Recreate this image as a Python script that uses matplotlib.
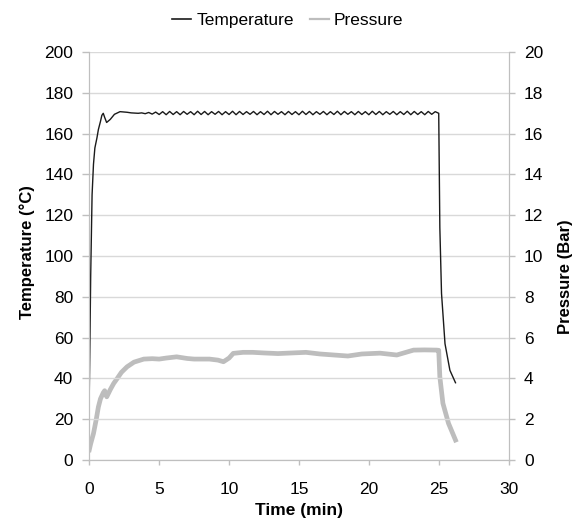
import matplotlib
matplotlib.use('Agg')
import matplotlib.pyplot as plt
from matplotlib.lines import Line2D

plt.rcParams['font.family'] = ['Liberation Sans', 'DejaVu Sans']

# Temperature (°C) vs time (min)
temp_time = [0, 0.05, 0.1, 0.2, 0.3, 0.4, 0.55, 0.65, 0.8, 0.9, 1.0, 1.1, 1.24, 1.5,
             1.8, 2.2, 2.7, 3.0, 3.25,
             3.5, 3.75, 4.0, 4.25, 4.5, 4.75, 5.0, 5.25,
             5.5, 5.75, 6.0, 6.25, 6.5, 6.75, 7.0, 7.25,
             7.5, 7.75, 8.0, 8.25, 8.5, 8.75, 9.0, 9.25,
             9.5, 9.75, 10.0, 10.25, 10.5, 10.75, 11.0, 11.25,
             11.5, 11.75, 12.0, 12.25, 12.5, 12.75, 13.0, 13.25,
             13.5, 13.75, 14.0, 14.25, 14.5, 14.75, 15.0, 15.25,
             15.5, 15.75, 16.0, 16.25, 16.5, 16.75, 17.0, 17.25,
             17.5, 17.75, 18.0, 18.25, 18.5, 18.75, 19.0, 19.25,
             19.5, 19.75, 20.0, 20.25, 20.5, 20.75, 21.0, 21.25,
             21.5, 21.75, 22.0, 22.25, 22.5, 22.75, 23.0, 23.25,
             23.5, 23.75, 24.0, 24.25, 24.5, 24.75, 25.0,
             25.08, 25.2, 25.45, 25.8, 26.2]
temp = [33, 60, 90, 130, 145, 153, 158, 162, 166, 169, 170, 168, 165.5, 167,
        169.5, 170.8, 170.5, 170.2, 170.1,
        170.0, 170.2, 169.8, 170.4, 169.6, 170.6, 169.4, 170.8,
        169.3, 170.9, 169.4, 170.8, 169.3, 170.9, 169.5, 170.8,
        169.3, 171.0, 169.4, 170.9, 169.3, 170.8, 169.5, 170.9,
        169.3, 170.8, 169.4, 171.0, 169.3, 170.9, 169.4, 170.8,
        169.5, 170.9, 169.3, 170.8, 169.4, 171.0, 169.3, 170.9,
        169.5, 170.8, 169.3, 170.9, 169.4, 170.8, 169.3, 171.0,
        169.4, 170.9, 169.3, 170.8, 169.5, 170.9, 169.3, 170.8,
        169.4, 171.0, 169.3, 170.9, 169.5, 170.8, 169.3, 170.9,
        169.4, 170.8, 169.3, 171.0, 169.4, 170.9, 169.3, 170.8,
        169.5, 170.9, 169.3, 170.8, 169.4, 171.0, 169.3, 170.9,
        169.4, 170.8, 169.3, 170.9, 169.5, 170.8, 170.0,
        114, 81.7, 57, 44, 37.9]

# Pressure (Bar) vs time (min)
pres_time = [0, 0.1, 0.3, 0.5, 0.65, 0.8, 1.0, 1.1, 1.25, 1.5, 1.75, 2.0, 2.3, 2.7,
             3.2, 3.9, 4.5, 5.0, 5.5, 6.25, 7.0, 7.5, 8.0, 8.6, 9.2, 9.6, 10.0, 10.3,
             11.0, 11.7, 12.5, 13.5, 14.5, 15.5, 16.5, 17.5, 18.5, 19.5, 20.8, 22.0,
             23.2, 24.0, 24.85, 25.0, 25.08, 25.3, 25.7, 26.2]
pres = [0.5, 0.8, 1.3, 2.0, 2.6, 3.0, 3.3, 3.4, 3.1, 3.45, 3.76, 4.0, 4.3, 4.57,
        4.8, 4.95, 4.97, 4.95, 5.0, 5.06, 4.98, 4.95, 4.95, 4.95, 4.9, 4.82, 5.0, 5.23,
        5.28, 5.28, 5.25, 5.22, 5.25, 5.28, 5.2, 5.15, 5.1, 5.2, 5.24, 5.15,
        5.39, 5.4, 5.39, 5.38, 4.08, 2.78, 1.8, 0.98]

temp_color = '#1a1a1a'
pres_color = '#bdbdbd'

fig = plt.figure(figsize=(5.76, 5.21), dpi=100)
ax = fig.add_axes([0.155, 0.117, 0.728, 0.783])
ax2 = ax.twinx()

edge = '#bfbfbf'
ax.set_axisbelow(True)
ax.grid(axis='y', color='#d9d9d9', linewidth=1)

ax2.plot(pres_time, pres, color=pres_color, linewidth=3.4)
ax.plot(temp_time, temp, color=temp_color, linewidth=1.0)
ax.set_zorder(ax2.get_zorder() + 1)
ax.patch.set_visible(False)

ax.set_xlim(0, 30)
ax.set_ylim(0, 200)
ax2.set_ylim(0, 20)
ax.set_xticks(range(0, 31, 5))
ax.set_yticks(range(0, 201, 20))
ax2.set_yticks(range(0, 21, 2))

for a in (ax, ax2):
    a.spines['top'].set_visible(False)
    for s in ('left', 'right', 'bottom'):
        a.spines[s].set_color(edge)
    a.tick_params(colors=edge, labelcolor='black', labelsize=12.5, width=1)
ax.tick_params(axis='x', length=3.6, pad=12)
ax.tick_params(axis='y', length=5, pad=6.5)
ax2.tick_params(axis='y', length=4.5, pad=6.5)

ax.set_xlabel('Time (min)', fontsize=12.5, fontweight='bold')
ax.set_ylabel('Temperature (°C)', fontsize=12, fontweight='bold')
ax2.set_ylabel('Pressure (Bar)', fontsize=12, fontweight='bold')
ax.xaxis.set_label_coords(0.5, -0.105)
ax.yaxis.set_label_coords(-0.1295, 0.51)
ax2.yaxis.set_label_coords(1.118, 0.45)

handles = [Line2D([], [], color=temp_color, linewidth=1.2),
           Line2D([], [], color=pres_color, linewidth=1.6)]
fig.legend(handles, ['Temperature', 'Pressure'], loc='center',
           bbox_to_anchor=(0.5, 0.9616), ncol=2, frameon=False, fontsize=12.5,
           handlelength=1.1, columnspacing=0.9, handletextpad=0.3, borderaxespad=0)

fig.savefig('out.png', dpi=100)
